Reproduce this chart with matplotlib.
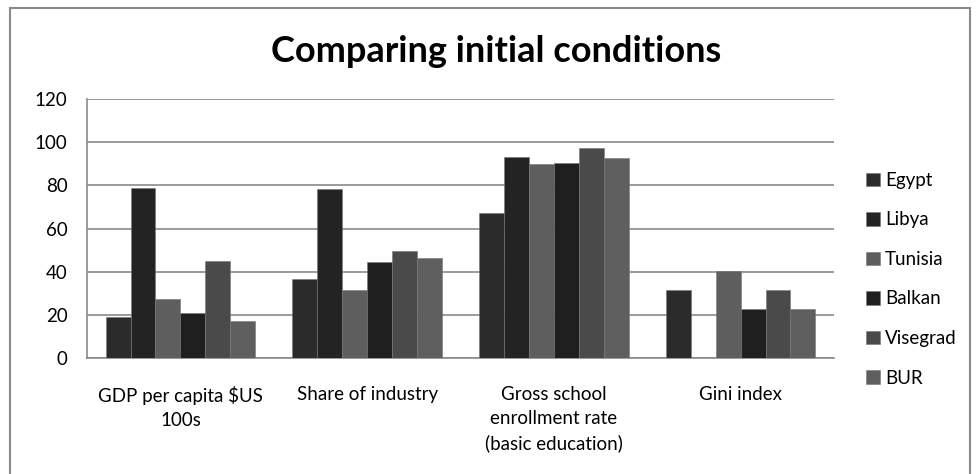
import numpy as np
from matplotlib import pyplot as plt
from matplotlib.patches import Rectangle

plt.rcParams['font.family'] = ['Lato', 'DejaVu Sans']

categories = ['GDP per capita $US\n100s', 'Share of industry',
              'Gross school\nenrollment rate\n(basic education)', 'Gini index']
series = ['Egypt', 'Libya', 'Tunisia', 'Balkan', 'Visegrad', 'BUR']
values = {
    'Egypt':    [19.0, 36.8, 67.0, 31.4],
    'Libya':    [78.6, 78.1, 93.2, 0.0],
    'Tunisia':  [27.2, 31.5, 89.8, 40.1],
    'Balkan':   [20.9, 44.5, 90.4, 22.7],
    'Visegrad': [45.0, 49.6, 97.1, 31.4],
    'BUR':      [17.2, 46.4, 92.5, 22.7],
}
colors = ['#2b2b2b', '#232323', '#5e5e5e', '#1f1f1f', '#4a4a4a', '#5f5f5f']
yticks = [0, 20, 40, 60, 80, 100, 120]

#---- Figure

fig = plt.figure(figsize=(9.76, 4.74), dpi=100)
ax = fig.add_axes([87/976, 1-358/474, 747/976, 259/474])

x = np.arange(len(categories))
w = 0.8/len(series)
for i, s in enumerate(series):
    ax.bar(x - 0.4 + w*(i+0.5), values[s], width=w, color=colors[i],
           edgecolor='#777777', linewidth=0.4, label=s, zorder=3)

ax.set_xlim(-0.5, len(categories)-0.5)
ax.set_ylim(0, 120)
ax.set_yticks(yticks)
ax.set_xticks(x)
ax.set_xticklabels(categories, fontsize=13.5, va='top', linespacing=1.5)
ax.tick_params(axis='y', labelsize=13.5, length=0, pad=14)
ax.tick_params(axis='x', length=0, pad=20)
ax.grid(axis='y', color='#8a8a8a', linewidth=1.2, zorder=0)

for sp in ['top', 'right']:
    ax.spines[sp].set_visible(False)
ax.spines['left'].set_color('#8a8a8a')
ax.spines['bottom'].set_color('#8a8a8a')
ax.spines['left'].set_linewidth(1.2)
ax.spines['bottom'].set_linewidth(1.2)

fig.text(496/976, 1-51/474, 'Comparing initial conditions', ha='center',
         va='center', fontsize=26, fontweight='bold')

ax.legend(loc='upper left', bbox_to_anchor=(866/976, 1-172/474),
          bbox_transform=fig.transFigure, frameon=False, fontsize=13.5,
          handlelength=0.72, handleheight=0.72, handletextpad=0.3,
          labelspacing=1.2, borderpad=0, borderaxespad=0)

# outer frame
fig.patches.append(Rectangle((10/976, -0.05), 960/976, 1.05-8/474,
                             transform=fig.transFigure, fill=False,
                             edgecolor='#8a8a8a', linewidth=1.5))

plt.savefig('out.png', dpi=100)
